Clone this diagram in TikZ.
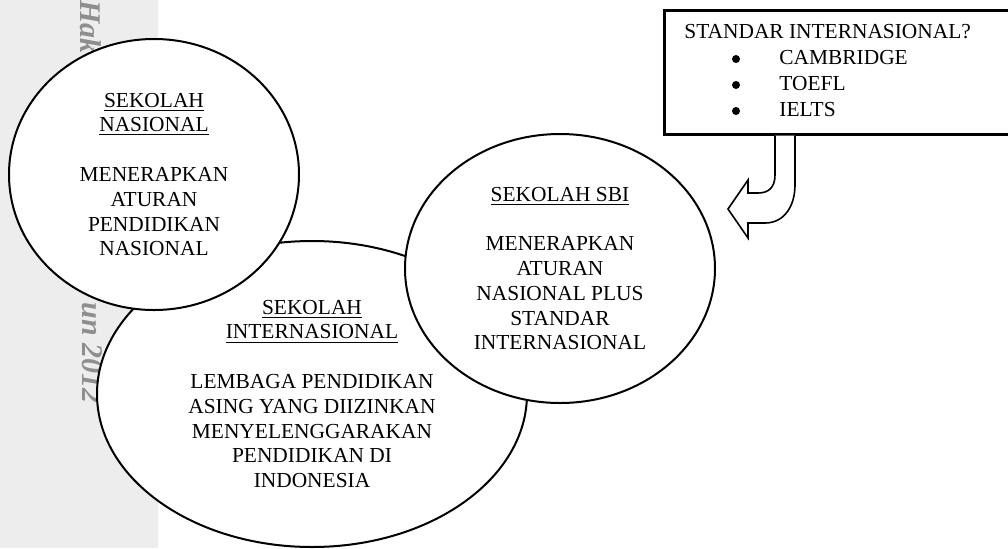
\documentclass[tikz,border=0pt]{standalone}
\usepackage{fontspec}
\setmainfont{Liberation Serif}
\usetikzlibrary{shapes.geometric}
\definecolor{band}{HTML}{EDEDED}
\definecolor{wm}{HTML}{8E8E8E}
\begin{document}
\begin{tikzpicture}[x=0.5pt,y=-0.5pt,
 ell/.style={ellipse, draw, line width=1pt, fill=white, inner sep=0pt, align=center, font=\fontsize{10.7}{12.4}\selectfont},
 wmark/.style={text=wm, font=\fontsize{15}{15}\selectfont\bfseries\itshape, rotate=-90, inner sep=0pt},
 txt/.style={font=\fontsize{10.7}{13}\selectfont, inner sep=0pt, anchor=base west},
 bul/.style={circle, fill, inner sep=0pt, minimum size=4pt}]
\clip (0,0) rectangle (1008,548);
\fill[band] (0,0) rectangle (158,548);
\node[wmark] (wm1) at (91,27) {Hak};
\node[wmark] (wm2) at (92,353) {un 2012};
\node[ell, minimum width=215pt, minimum height=153pt] (intl) at (312,394)
 {\underline{SEKOLAH}\\\underline{INTERNASIONAL}\\[12.4pt]LEMBAGA PENDIDIKAN\\ASING YANG DIIZINKAN\\MENYELENGGARAKAN\\PENDIDIKAN DI\\INDONESIA};
\node[ell, minimum width=145pt, minimum height=135.5pt] (nas) at (154,174.5)
 {\underline{SEKOLAH}\\\underline{NASIONAL}\\[12.4pt]MENERAPKAN\\ATURAN\\PENDIDIKAN\\NASIONAL};
\node[ell, minimum width=155pt, minimum height=134.5pt] (sbi) at (560,268.5)
 {\underline{SEKOLAH SBI}\\[12.4pt]MENERAPKAN\\ATURAN\\NASIONAL PLUS\\STANDAR\\INTERNASIONAL};
\node[draw, line width=1.3pt, fill=white, inner sep=0pt, anchor=north west,
 minimum width=180pt, minimum height=62pt] (box) at (663,9) {};
\node[txt] (title) at (684,38) {STANDAR INTERNASIONAL?};
\node[bul] (b1) at (736,59) {};
\node[txt] (t1) at (779,64) {CAMBRIDGE};
\node[bul] (b2) at (736,85) {};
\node[txt] (t2) at (779,90) {TOEFL};
\node[bul] (b3) at (736,111) {};
\node[txt] (t3) at (779,116) {IELTS};
\coordinate (a1) at (box.south -| 775,0);
\coordinate (a2) at (box.south -| 795,0);
\draw[line width=0.8pt, fill=white, line join=miter]
 (a1) -- (775,175) .. controls (775,188) and (768,193) .. (758,193) -- (748,193)
 -- (748,180) -- (728,209) -- (748,238) -- (748,223) -- (765,223)
 .. controls (785,223) and (795,205) .. (795,185) -- (a2);
\end{tikzpicture}
\end{document}
